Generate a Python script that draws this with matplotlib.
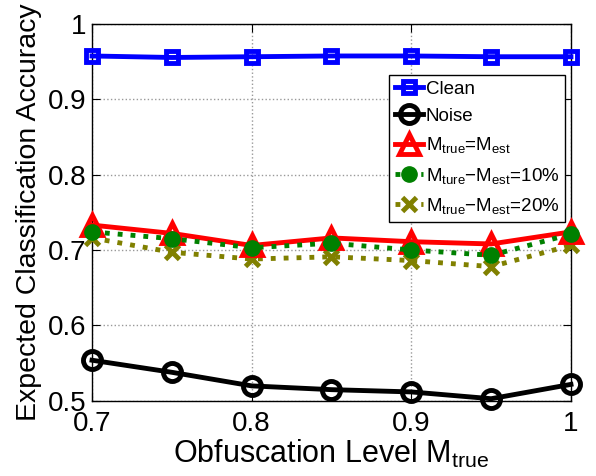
import numpy as np
import matplotlib.pyplot as plt

plt.rcParams['font.family'] = ['Liberation Sans', 'DejaVu Sans']
plt.rcParams['mathtext.fontset'] = 'custom'
plt.rcParams['mathtext.rm'] = 'Liberation Sans'
plt.rcParams['mathtext.it'] = 'Liberation Sans'

# obfuscation levels
levels = [0.7, 0.75, 0.8, 0.85, 0.9, 0.95, 1.0]

clean = [0.957, 0.955, 0.956, 0.957, 0.957, 0.956, 0.956]
noise = [0.554, 0.538, 0.520, 0.515, 0.512, 0.503, 0.522]
exact = [0.733, 0.722, 0.706, 0.716, 0.711, 0.708, 0.724]
off10 = [0.724, 0.715, 0.703, 0.709, 0.700, 0.693, 0.721]
off20 = [0.716, 0.697, 0.688, 0.691, 0.686, 0.678, 0.706]

xticks = [0.7, 0.8, 0.9, 1.0]
xticklabels = ['0.7', '0.8', '0.9', '1']
yticks = [0.5, 0.6, 0.7, 0.8, 0.9, 1.0]
yticklabels = ['0.5', '0.6', '0.7', '0.8', '0.9', '1']

fig = plt.figure(figsize=(5.96, 4.76), dpi=100)
ax = fig.add_axes([0.1544, 0.1576, 0.8036, 0.793])

ax.plot(levels, clean, color='blue', lw=3.5, marker='s', ms=9,
        mfc='none', mew=3.5, label='Clean', clip_on=False, zorder=5)
ax.plot(levels, noise, color='black', lw=3.5, marker='o', ms=13,
        mfc='none', mew=3.5, label='Noise', clip_on=False, zorder=5)
ax.plot(levels, exact, color='red', lw=3.5, marker='^', ms=14,
        mfc='none', mew=3.5, label='M$_{true}$=M$_{est}$', clip_on=False, zorder=4)
ax.plot(levels, off10, color='green', lw=3.5, ls=':', marker='o', ms=11,
        mew=1, label='M$_{ture}$\u2212M$_{est}$=10%', clip_on=False, zorder=4)
ax.plot(levels, off20, color='olive', lw=3.5, ls=':', marker='x', ms=10,
        mew=3.5, label='M$_{true}$\u2212M$_{est}$=20%', clip_on=False, zorder=3)

ax.set_xlim(0.7, 1.0)
ax.set_ylim(0.5, 1.0)
ax.set_xticks(xticks)
ax.set_xticklabels(xticklabels)
ax.set_yticks(yticks)
ax.set_yticklabels(yticklabels)
ax.tick_params(direction='in', labelsize=20, length=6, top=True, right=True,
               pad=4)
ax.tick_params(axis='x', pad=7)
ax.grid(True, ls=':', color='#999999', lw=1)
for s in ax.spines.values():
    s.set_linewidth(1)

ax.set_xlabel('Obfuscation Level M$_{true}$', fontsize=22, labelpad=1)
ax.set_ylabel('Expected Classification Accuracy', fontsize=20.5, labelpad=4)

leg = ax.legend(loc='upper right', bbox_to_anchor=(0.9875, 0.864), fontsize=13.5,
                fancybox=False, framealpha=1, edgecolor='black',
                handlelength=1.5, handletextpad=0.15, borderpad=0.3,
                labelspacing=0.55, borderaxespad=0)
leg.get_frame().set_linewidth(1)

plt.savefig('out.png', dpi=100)
